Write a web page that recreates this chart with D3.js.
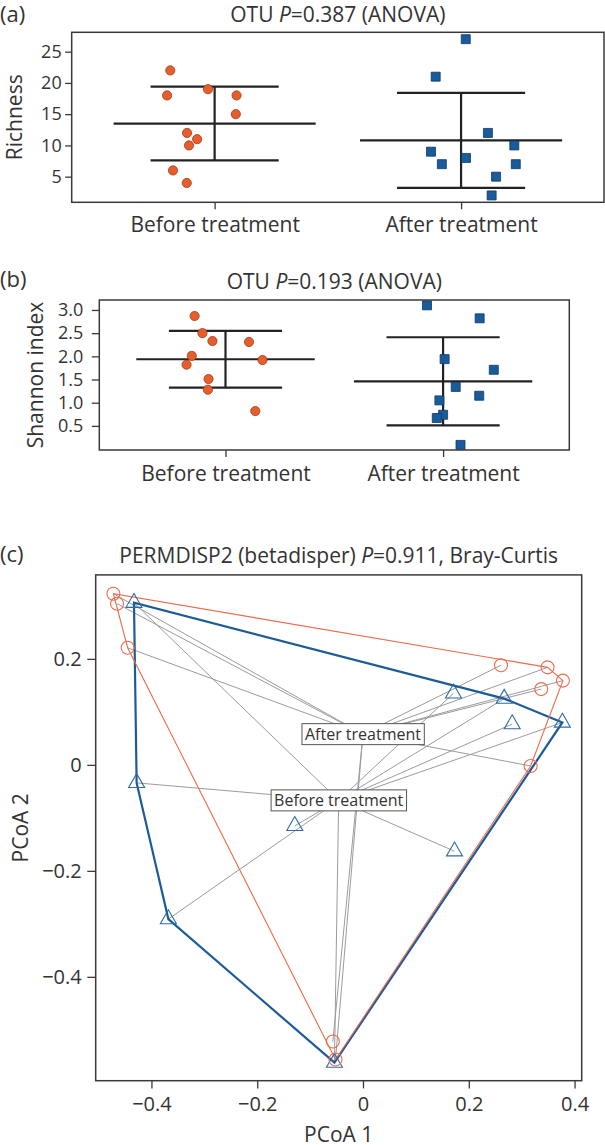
<!DOCTYPE html>
<html>
<head>
<meta charset="utf-8">
<script src="https://cdnjs.cloudflare.com/ajax/libs/d3/7.8.5/d3.min.js"></script>
<style>
  body { margin: 0; background: #fff; }
  svg { display: block; font-family: "Open Sans", sans-serif; }
  text { fill: #333; }
  .frame { fill: none; stroke: #3a3a3a; stroke-width: 1.5px; }
  .axis path { display: none; }
  .axis line { stroke: #3a3a3a; stroke-width: 1.3px; }
  .axis text { fill: #333; font-family: "Open Sans", sans-serif; }
  .bar { stroke: #222; stroke-width: 2.2px; }
  .spider { stroke: #9b9b9b; stroke-width: 1px; }
  .lab rect { fill: #fff; stroke: #555; stroke-width: 1px; }
</style>
</head>
<body>
<script>
// ---- data ----
var groups = ["Before treatment", "After treatment"];

// (a) richness, jitter in units of category step
var richBefore = [22, 18, 19, 18, 15, 12, 11, 10, 6, 4];
var richBeforeJit = [-0.180, -0.193, -0.027, 0.089, 0.086, -0.112, -0.071, -0.104, -0.169, -0.113];
var richAfter = [27, 21, 12, 10, 9, 8, 7, 7, 5, 2];
var richAfterJit = [0.019, -0.103, 0.109, 0.216, -0.122, 0.020, -0.078, 0.222, 0.142, 0.124];
var richTicks = [5, 10, 15, 20, 25];

// (b) shannon index
var shanBefore = [2.87, 2.50, 2.33, 2.31, 2.01, 1.82, 1.92, 1.51, 1.28, 0.82];
var shanBeforeJit = [-0.142, -0.106, -0.060, 0.108, -0.155, -0.179, 0.170, -0.078, -0.081, 0.137];
var shanAfter = [3.10, 2.82, 1.94, 1.71, 1.34, 1.15, 1.05, 0.74, 0.67, 0.09];
var shanAfterJit = [-0.074, 0.168, 0.007, 0.233, 0.058, 0.166, -0.017, 0.000, -0.029, 0.080];
var shanTicks = [0.5, 1.0, 1.5, 2.0, 2.5, 3.0];

// (c) PCoA scores (triangles = before, circles = after)
var pcoaBefore = [[-0.433, 0.306], [-0.428, -0.034], [-0.368, -0.291], [0.171, 0.135],
  [0.267, 0.125], [0.282, 0.077], [0.377, 0.080], [0.173, -0.163], [-0.129, -0.115], [-0.054, -0.562]];
var pcoaAfter = [[-0.472, 0.323], [-0.465, 0.304], [-0.445, 0.221], [0.261, 0.188], [0.349, 0.184],
  [0.378, 0.159], [0.337, 0.143], [0.317, -0.002], [-0.057, -0.522], [-0.052, -0.556]];
var centroidBefore = [-0.046, -0.067];
var centroidAfter = [0.000, 0.058];
var pcoaXTicks = [-0.4, -0.2, 0, 0.2, 0.4];
var pcoaYTicks = [-0.4, -0.2, 0, 0.2];

var orange = "#e95d2c", orangeEdge = "#9c3d1c",
    blue = "#1a5b9b", blueEdge = "#0d3b66";

var svg = d3.select("body").append("svg")
    .attr("width", 605)
    .attr("height", 1145);

function minus(s) { return s.replace("-", "\u2212"); }

function pTitle(g, x, y, pre, post, size) {
  var t = g.append("text").attr("x", x).attr("y", y)
      .attr("text-anchor", "middle").style("font-size", size + "px");
  t.append("tspan").text(pre);
  t.append("tspan").style("font-style", "italic").text("P");
  t.append("tspan").text(post);
}

// jittered strip chart with mean +- sd
function stripPanel(p) {
  var g = svg.append("g");
  var x = d3.scalePoint().domain(groups).range([p.left, p.right]).padding(0.58);
  var y = d3.scaleLinear().domain(p.yDomain).range([p.bottom, p.top]);
  var step = x.step();

  var ya = g.append("g").attr("class", "axis")
      .attr("transform", "translate(" + p.left + ",0)")
      .call(d3.axisLeft(y).tickValues(p.ticks).tickFormat(p.fmt)
        .tickSize(p.yTick).tickPadding(p.yPad));
  ya.selectAll("text").style("font-size", "18px");

  var xa = g.append("g").attr("class", "axis")
      .attr("transform", "translate(0," + p.bottom + ")")
      .call(d3.axisBottom(x).tickSize(7).tickPadding(p.xPad));
  xa.selectAll("text").style("font-size", "21px");

  var sets = [p.before, p.after];
  sets.forEach(function(vals, i) {
    var c = x(groups[i]), m = d3.mean(vals), s = d3.deviation(vals);
    var bars = [[m, 0.41], [m + s, 0.26], [m - s, 0.26]];
    g.selectAll(null).data(bars).enter().append("line")
        .attr("class", "bar")
        .attr("x1", function(d) { return c - d[1] * step; })
        .attr("x2", function(d) { return c + d[1] * step; })
        .attr("y1", function(d) { return y(d[0]); })
        .attr("y2", function(d) { return y(d[0]); });
    g.append("line").attr("class", "bar")
        .attr("x1", c).attr("x2", c)
        .attr("y1", y(m - s)).attr("y2", y(m + s));
  });

  var cB = x(groups[0]), cA = x(groups[1]);
  g.selectAll(null).data(p.before).enter().append("circle")
      .attr("cx", function(d, i) { return cB + p.beforeJit[i] * step; })
      .attr("cy", function(d) { return y(d); })
      .attr("r", 4.6)
      .attr("fill", orange).attr("stroke", orangeEdge).attr("stroke-width", 0.8);

  g.selectAll(null).data(p.after).enter().append("path")
      .attr("d", d3.symbol(d3.symbolSquare, 81))
      .attr("transform", function(d, i) {
        return "translate(" + (cA + p.afterJit[i] * step) + "," + y(d) + ")";
      })
      .attr("fill", blue).attr("stroke", blueEdge).attr("stroke-width", 0.8);

  g.append("rect").attr("class", "frame")
      .attr("x", p.left).attr("y", p.top)
      .attr("width", p.right - p.left).attr("height", p.bottom - p.top);

  g.append("text").attr("x", 0).attr("y", p.letterY)
      .style("font-size", "22px").text(p.letter);
  pTitle(g, (p.left + p.right) / 2, p.titleY, "OTU ", p.titleRest, 21);

  g.append("text")
      .attr("transform", "translate(" + p.yLabX + "," + ((p.top + p.bottom) / 2) + ") rotate(-90)")
      .attr("text-anchor", "middle")
      .style("font-size", "21px")
      .text(p.yLabel);
}

stripPanel({
  left: 71.7, right: 604, top: 32.3, bottom: 202.3,
  yDomain: [0.9, 28.1], ticks: richTicks, fmt: d3.format("d"),
  yTick: 6.5, yPad: 3.5, xPad: 7.5,
  before: richBefore, beforeJit: richBeforeJit,
  after: richAfter, afterJit: richAfterJit,
  letter: "(a)", letterY: 21.5, titleY: 21.5, titleRest: "=0.387 (ANOVA)",
  yLabel: "Richness", yLabX: 21.7
});

stripPanel({
  left: 99.3, right: 569.3, top: 300, bottom: 450,
  yDomain: [-0.02, 3.215], ticks: shanTicks, fmt: d3.format(".1f"),
  yTick: 7.5, yPad: 8.5, xPad: 9.5,
  before: shanBefore, beforeJit: shanBeforeJit,
  after: shanAfter, afterJit: shanAfterJit,
  letter: "(b)", letterY: 286.5, titleY: 289, titleRest: "=0.193 (ANOVA)",
  yLabel: "Shannon index", yLabX: 43.3
});

// ---- (c) PCoA betadisper ----
var box = {left: 95.7, right: 581.7, top: 574.9, bottom: 1080.7};
var gc = svg.append("g");
var px = d3.scaleLinear().domain([-0.5054, 0.4135]).range([box.left, box.right]);
var py = d3.scaleLinear().domain([-0.596, 0.3585]).range([box.bottom, box.top]);

function toPx(d) { return [px(d[0]), py(d[1])]; }

var spider = pcoaBefore.map(function(d) { return [d, centroidBefore]; })
  .concat(pcoaAfter.map(function(d) { return [d, centroidAfter]; }));
gc.selectAll(null).data(spider).enter().append("line")
    .attr("class", "spider")
    .attr("x1", function(d) { return px(d[0][0]); })
    .attr("y1", function(d) { return py(d[0][1]); })
    .attr("x2", function(d) { return px(d[1][0]); })
    .attr("y2", function(d) { return py(d[1][1]); });

var hullB = d3.polygonHull(pcoaBefore.map(toPx));
var hullA = d3.polygonHull(pcoaAfter.map(toPx));
gc.append("path")
    .attr("d", "M" + hullB.join("L") + "Z")
    .attr("fill", "none").attr("stroke", "#1c5b98").attr("stroke-width", 2.2);
gc.append("path")
    .attr("d", "M" + hullA.join("L") + "Z")
    .attr("fill", "none").attr("stroke", "#ee6b4b").attr("stroke-width", 1.1);

gc.selectAll(null).data(pcoaBefore).enter().append("path")
    .attr("d", d3.symbol(d3.symbolTriangle, 111))
    .attr("transform", function(d) { return "translate(" + px(d[0]) + "," + py(d[1]) + ")"; })
    .attr("fill", "none").attr("stroke", "#2e6aa6").attr("stroke-width", 1.1);

gc.selectAll(null).data(pcoaAfter).enter().append("circle")
    .attr("cx", function(d) { return px(d[0]); })
    .attr("cy", function(d) { return py(d[1]); })
    .attr("r", 6.5)
    .attr("fill", "none").attr("stroke", "#ec6c4c").attr("stroke-width", 1.1);

[[groups[1], centroidAfter], [groups[0], centroidBefore]].forEach(function(l) {
  var lg = gc.append("g").attr("class", "lab");
  var r = lg.append("rect");
  var t = lg.append("text")
      .attr("x", px(l[1][0])).attr("y", py(l[1][1]))
      .attr("text-anchor", "middle").attr("dy", "0.35em")
      .style("font-size", "16px").text(l[0]);
  var bb = t.node().getBBox();
  r.attr("x", bb.x - 3).attr("y", py(l[1][1]) - 10.5)
      .attr("width", bb.width + 6).attr("height", 21);
});

gc.append("rect").attr("class", "frame")
    .attr("x", box.left).attr("y", box.top)
    .attr("width", box.right - box.left).attr("height", box.bottom - box.top);

var fmtC = function(d) { return d === 0 ? "0" : minus(d3.format(".1f")(d)); };
gc.append("g").attr("class", "axis")
    .attr("transform", "translate(0," + box.bottom + ")")
    .call(d3.axisBottom(px).tickValues(pcoaXTicks).tickFormat(fmtC).tickSize(7.7).tickPadding(8.3))
    .selectAll("text").style("font-size", "20px");
gc.append("g").attr("class", "axis")
    .attr("transform", "translate(" + box.left + ",0)")
    .call(d3.axisLeft(py).tickValues(pcoaYTicks).tickFormat(fmtC).tickSize(8.4).tickPadding(5.6))
    .selectAll("text").style("font-size", "20px");

gc.append("text").attr("x", 0).attr("y", 561.5)
    .style("font-size", "22px").text("(c)");
pTitle(gc, (box.left + box.right) / 2, 562.5, "PERMDISP2 (betadisper) ", "=0.911, Bray-Curtis", 21);

gc.append("text")
    .attr("x", (box.left + box.right) / 2).attr("y", 1141.5)
    .attr("text-anchor", "middle").style("font-size", "21px")
    .text("PCoA 1");
gc.append("text")
    .attr("transform", "translate(28.3," + ((box.top + box.bottom) / 2) + ") rotate(-90)")
    .attr("text-anchor", "middle").style("font-size", "21px")
    .text("PCoA 2");
</script>
</body>
</html>
